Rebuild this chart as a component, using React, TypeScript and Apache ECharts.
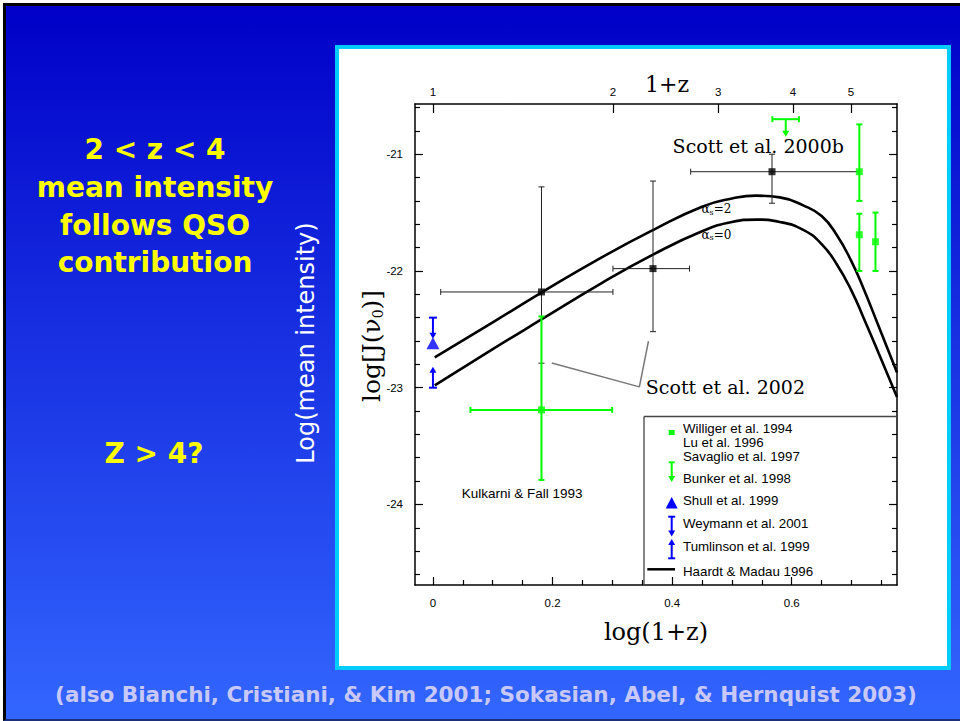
import React, { useEffect, useRef } from 'react';
import * as echarts from 'echarts';

// ---------------- data ----------------
const curveX = [0.003, 0.1, 0.18, 0.28, 0.368, 0.45, 0.5, 0.54, 0.58, 0.62, 0.65, 0.675, 0.7, 0.72, 0.745, 0.776];
const curveAlpha2 = [-22.74, -22.44, -22.19, -21.89, -21.65, -21.45, -21.38, -21.355, -21.37, -21.44, -21.53, -21.69, -21.92, -22.15, -22.47, -22.87];
const curveAlpha0 = [-22.98, -22.67, -22.42, -22.11, -21.86, -21.66, -21.58, -21.56, -21.58, -21.65, -21.77, -21.94, -22.17, -22.4, -22.7, -23.08];

// Scott et al. 2002 / 2000b (black)
const scottX = [0.1815, 0.368, 0.567];
const scottY = [-22.18, -21.98, -21.15];
const scottXLo = [0.013, 0.301, 0.431];
const scottXHi = [0.301, 0.429, 0.713];
const scottYLo = [-22.79, -22.52, -21.42];
const scottYHi = [-21.28, -21.23, -21.0];

// green measurements (Kulkarni & Fall, Williger, Lu, Savaglio)
const greenX = [0.1815, 0.713, 0.713, 0.74];
const greenY = [-23.19, -21.15, -21.69, -21.75];
const greenXLo = [0.0627, 0.713, 0.713, 0.74];
const greenXHi = [0.2997, 0.713, 0.713, 0.74];
const greenYLo = [-23.79, -21.4, -22.0, -22.0];
const greenYHi = [-22.39, -20.745, -21.51, -21.5];

// limits: x, start (cap), arrow tip, xlo, xhi
const greenLimitX = [0.59];
const greenLimitFrom = [-20.7];
const greenLimitTo = [-20.85];
const greenLimitXLo = [0.5676];
const greenLimitXHi = [0.612];

const blueLimitX = [0.0, 0.0];
const blueLimitFrom = [-22.4, -23.0];
const blueLimitTo = [-22.58, -22.82];

// Shull et al. 1999
const shullX = [0.0];
const shullY = [-22.62];

// leader line to "Scott et al. 2002"
const leaderX = [0.1987, 0.3452, 0.3604];
const leaderY = [-22.789, -22.993, -22.601];

// in-plot annotations (data coordinates)
const annotText = ['Scott et al. 2000b', 'Scott et al. 2002', 'Kulkarni & Fall 1993', '{a|α}{s|s}{a|=2}', '{a|α}{s|s}{a|=0}'];
const annotX = [0.4008, 0.356, 0.149, 0.449, 0.449];
const annotY = [-20.927, -22.995, -23.903, -21.47, -21.69];

// axis ticks
const xMajorTicks = [0, 0.2, 0.4, 0.6];
const xMinorTicks = [0.05, 0.1, 0.15, 0.25, 0.3, 0.35, 0.45, 0.5, 0.55, 0.65, 0.7, 0.75];
const yMajorTicks = [-24, -23, -22, -21];
const yMinorTicks = [-24.6, -24.4, -24.2, -23.8, -23.6, -23.4, -23.2, -22.8, -22.6, -22.4, -22.2, -21.8, -21.6, -21.4, -21.2, -20.8, -20.6];
const topTickLabels = [1, 2, 3, 4, 5];

const legendLabels = [
  'Williger et al. 1994',
  'Lu et al. 1996',
  'Savaglio et al. 1997',
  'Bunker et al. 1998',
  'Shull et al. 1999',
  'Weymann et al. 2001',
  'Tumlinson et al. 1999',
  'Haardt & Madau 1996',
];

const leftLines = ['2 < z < 4', 'mean intensity', 'follows QSO', 'contribution'];

// ---------------- layout constants ----------------
const X_MIN = -0.03;
const X_MAX = 0.776;
const Y_MIN = -24.69;
const Y_MAX = -20.57;

const SERIF = '"DejaVu Serif", "Liberation Serif", serif';
const SANS = '"Liberation Sans", Arial, sans-serif';

const GREEN = '#00FF00';
const BLUE = '#0000FF';

// per-annotation text styles (index-aligned with annotText)
const annotStyles: any[] = [
  { fontFamily: SERIF, fontSize: 19, align: 'left' },
  { fontFamily: SERIF, fontSize: 19, align: 'left' },
  { fontFamily: SANS, fontSize: 13.5, align: 'center' },
  { align: 'left', alpha: true },
  { align: 'left', alpha: true },
];

function errorBarRender(color: string, lw: number, cap: number) {
  return (params: any, api: any) => {
    const x = api.value(0);
    const y = api.value(1);
    const xlo = api.value(2);
    const xhi = api.value(3);
    const ylo = api.value(4);
    const yhi = api.value(5);
    const c = api.coord([x, y]);
    const style = { stroke: color, lineWidth: lw, fill: null };
    const children: any[] = [];
    if (ylo !== yhi) {
      const a = api.coord([x, ylo]);
      const b = api.coord([x, yhi]);
      children.push({ type: 'line', shape: { x1: c[0], y1: a[1], x2: c[0], y2: b[1] }, style });
      children.push({ type: 'line', shape: { x1: c[0] - cap, y1: a[1], x2: c[0] + cap, y2: a[1] }, style });
      children.push({ type: 'line', shape: { x1: c[0] - cap, y1: b[1], x2: c[0] + cap, y2: b[1] }, style });
    }
    if (xlo !== xhi) {
      const a = api.coord([xlo, y]);
      const b = api.coord([xhi, y]);
      children.push({ type: 'line', shape: { x1: a[0], y1: c[1], x2: b[0], y2: c[1] }, style });
      children.push({ type: 'line', shape: { x1: a[0], y1: c[1] - cap, x2: a[0], y2: c[1] + cap }, style });
      children.push({ type: 'line', shape: { x1: b[0], y1: c[1] - cap, x2: b[0], y2: c[1] + cap }, style });
    }
    return { type: 'group', children };
  };
}

function limitRender(color: string, lw: number) {
  return (params: any, api: any) => {
    const x = api.value(0);
    const y0 = api.value(1);
    const y1 = api.value(2);
    const xlo = api.value(3);
    const xhi = api.value(4);
    const p0 = api.coord([x, y0]);
    const p1 = api.coord([x, y1]);
    const dir = p1[1] > p0[1] ? 1 : -1;
    const style = { stroke: color, lineWidth: lw, fill: null };
    const children: any[] = [];
    const headLen = 6;
    const headHalf = 3.5;
    children.push({
      type: 'line',
      shape: { x1: p0[0], y1: p0[1], x2: p1[0], y2: p1[1] - dir * (headLen - 1) },
      style,
    });
    children.push({
      type: 'polygon',
      shape: {
        points: [
          [p1[0], p1[1]],
          [p1[0] - headHalf, p1[1] - dir * headLen],
          [p1[0] + headHalf, p1[1] - dir * headLen],
        ],
      },
      style: { fill: color, stroke: null },
    });
    if (xlo !== xhi && xlo != null && !isNaN(xlo)) {
      const a = api.coord([xlo, y0]);
      const b = api.coord([xhi, y0]);
      children.push({ type: 'line', shape: { x1: a[0], y1: p0[1], x2: b[0], y2: p0[1] }, style });
      children.push({ type: 'line', shape: { x1: a[0], y1: p0[1] - 3, x2: a[0], y2: p0[1] + 3 }, style });
      children.push({ type: 'line', shape: { x1: b[0], y1: p0[1] - 3, x2: b[0], y2: p0[1] + 3 }, style });
    } else {
      children.push({ type: 'line', shape: { x1: p0[0] - 4, y1: p0[1], x2: p0[0] + 4, y2: p0[1] }, style });
    }
    return { type: 'group', children };
  };
}

const alphaRich = {
  a: { fontFamily: SERIF, fontSize: 12, fill: '#000', lineHeight: 14, verticalAlign: 'middle' },
  s: { fontFamily: SERIF, fontSize: 8, fill: '#000', lineHeight: 12, verticalAlign: 'bottom' },
};

function annotRender(params: any, api: any) {
  const i = api.value(2);
  const p = api.coord([api.value(0), api.value(1)]);
  const st = annotStyles[i];
  const style: any = {
    text: annotText[i],
    fill: '#000',
    align: st.align,
    verticalAlign: 'middle',
  };
  if (st.alpha) {
    style.rich = alphaRich;
  } else {
    style.fontFamily = st.fontFamily;
    style.fontSize = st.fontSize;
  }
  return { type: 'text', x: p[0], y: p[1], style };
}

function buildOption(): any {
  const axisLineStyle = { color: '#000', width: 1.5 };
  const tickStyle = { color: '#000', width: 1.2 };

  const baseX = {
    type: 'value',
    min: X_MIN,
    max: X_MAX,
    splitLine: { show: false },
    gridIndex: 0,
  };
  const baseY = {
    type: 'value',
    min: Y_MIN,
    max: Y_MAX,
    splitLine: { show: false },
    gridIndex: 0,
  };

  const xAxis = [
    {
      ...baseX,
      position: 'bottom',
      axisLine: { show: true, onZero: false, lineStyle: axisLineStyle },
      axisTick: { show: true, inside: true, length: 8, lineStyle: tickStyle, customValues: xMajorTicks },
      axisLabel: {
        show: true,
        customValues: xMajorTicks,
        margin: 12,
        color: '#000',
        fontFamily: SANS,
        fontSize: 11.5,
        formatter: (v: number) => (v === 0 ? '0' : String(+v.toFixed(1))),
      },
      name: 'log(1+z)',
      nameLocation: 'middle',
      nameGap: 35,
      nameTextStyle: { fontFamily: SERIF, fontSize: 24, color: '#000' },
    },
    {
      ...baseX,
      position: 'bottom',
      axisLine: { show: false, onZero: false },
      axisTick: { show: true, inside: true, length: 5, lineStyle: tickStyle, customValues: xMinorTicks },
      axisLabel: { show: false },
    },
    {
      ...baseX,
      position: 'top',
      axisLine: { show: true, onZero: false, lineStyle: axisLineStyle },
      axisTick: {
        show: true,
        inside: true,
        length: 9,
        lineStyle: tickStyle,
        customValues: topTickLabels.map((v) => Math.log10(v)),
      },
      axisLabel: {
        show: true,
        customValues: topTickLabels.map((v) => Math.log10(v)),
        margin: 6,
        color: '#000',
        fontFamily: SANS,
        fontSize: 11.5,
        formatter: (v: number) => String(Math.round(Math.pow(10, v))),
      },
    },
  ];

  const yAxis = [
    {
      ...baseY,
      position: 'left',
      axisLine: { show: true, onZero: false, lineStyle: axisLineStyle },
      axisTick: { show: true, inside: true, length: 8, lineStyle: tickStyle, customValues: yMajorTicks },
      axisLabel: {
        show: true,
        customValues: yMajorTicks,
        margin: 12,
        color: '#000',
        fontFamily: SANS,
        fontSize: 11.5,
        formatter: (v: number) => String(v),
      },
    },
    {
      ...baseY,
      position: 'left',
      axisLine: { show: false, onZero: false },
      axisTick: { show: true, inside: true, length: 5, lineStyle: tickStyle, customValues: yMinorTicks },
      axisLabel: { show: false },
    },
    {
      ...baseY,
      position: 'right',
      axisLine: { show: true, onZero: false, lineStyle: axisLineStyle },
      axisTick: { show: true, inside: true, length: 8, lineStyle: tickStyle, customValues: yMajorTicks },
      axisLabel: { show: false },
    },
    {
      ...baseY,
      position: 'right',
      axisLine: { show: false, onZero: false },
      axisTick: { show: true, inside: true, length: 5, lineStyle: tickStyle, customValues: yMinorTicks },
      axisLabel: { show: false },
    },
  ];

  const series: any[] = [
    {
      name: 'Haardt & Madau 1996 αs=2',
      type: 'line',
      xAxisIndex: 0,
      yAxisIndex: 0,
      data: curveX.map((x, i) => [x, curveAlpha2[i]]),
      smooth: 0.5,
      showSymbol: false,
      symbol: 'none',
      lineStyle: { color: '#000', width: 2.6 },
      z: 2,
      silent: true,
    },
    {
      name: 'Haardt & Madau 1996 αs=0',
      type: 'line',
      xAxisIndex: 0,
      yAxisIndex: 0,
      data: curveX.map((x, i) => [x, curveAlpha0[i]]),
      smooth: 0.5,
      showSymbol: false,
      symbol: 'none',
      lineStyle: { color: '#000', width: 2.6 },
      z: 2,
      silent: true,
    },
    {
      name: 'leader',
      type: 'line',
      xAxisIndex: 0,
      yAxisIndex: 0,
      data: leaderX.map((x, i) => [x, leaderY[i]]),
      showSymbol: false,
      symbol: 'none',
      lineStyle: { color: '#777', width: 1.5 },
      z: 2,
      silent: true,
    },
    {
      name: 'Scott errors',
      type: 'custom',
      xAxisIndex: 0,
      yAxisIndex: 0,
      renderItem: errorBarRender('#222', 1, 3),
      data: scottX.map((x, i) => [x, scottY[i], scottXLo[i], scottXHi[i], scottYLo[i], scottYHi[i]]),
      encode: { x: 0, y: 1 },
      z: 3,
      silent: true,
    },
    {
      name: 'Scott et al.',
      type: 'scatter',
      xAxisIndex: 0,
      yAxisIndex: 0,
      symbol: 'rect',
      symbolSize: 7,
      itemStyle: { color: '#000' },
      data: scottX.map((x, i) => [x, scottY[i]]),
      z: 4,
      silent: true,
    },
    {
      name: 'green errors',
      type: 'custom',
      xAxisIndex: 0,
      yAxisIndex: 0,
      renderItem: errorBarRender(GREEN, 2, 3),
      data: greenX.map((x, i) => [x, greenY[i], greenXLo[i], greenXHi[i], greenYLo[i], greenYHi[i]]),
      encode: { x: 0, y: 1 },
      z: 3,
      silent: true,
    },
    {
      name: 'Williger / Lu / Savaglio',
      type: 'scatter',
      xAxisIndex: 0,
      yAxisIndex: 0,
      symbol: 'rect',
      symbolSize: 7,
      itemStyle: { color: GREEN },
      data: greenX.map((x, i) => [x, greenY[i]]),
      z: 4,
      silent: true,
    },
    {
      name: 'Bunker et al. 1998',
      type: 'custom',
      xAxisIndex: 0,
      yAxisIndex: 0,
      renderItem: limitRender(GREEN, 2),
      data: greenLimitX.map((x, i) => [x, greenLimitFrom[i], greenLimitTo[i], greenLimitXLo[i], greenLimitXHi[i]]),
      encode: { x: 0, y: 1 },
      z: 3,
      silent: true,
    },
    {
      name: 'Weymann / Tumlinson',
      type: 'custom',
      xAxisIndex: 0,
      yAxisIndex: 0,
      renderItem: limitRender(BLUE, 2),
      data: blueLimitX.map((x, i) => [x, blueLimitFrom[i], blueLimitTo[i], x, x]),
      encode: { x: 0, y: 1 },
      z: 3,
      silent: true,
    },
    {
      name: 'Shull et al. 1999',
      type: 'scatter',
      xAxisIndex: 0,
      yAxisIndex: 0,
      symbol: 'triangle',
      symbolSize: [13, 12],
      itemStyle: { color: BLUE },
      data: shullX.map((x, i) => [x, shullY[i]]),
      z: 4,
      silent: true,
    },
    {
      name: 'annotations',
      type: 'custom',
      xAxisIndex: 0,
      yAxisIndex: 0,
      renderItem: annotRender,
      data: annotX.map((x, i) => [x, annotY[i], i]),
      encode: { x: 0, y: 1 },
      z: 5,
      silent: true,
    },
  ];

  // ----- legend (drawn as graphics inside the plot) -----
  const LX = 671.7; // symbol centre
  const TX = 683; // text left
  const legendTextY = [428.3, 442.3, 456, 478.3, 500, 523.3, 546.7, 571];
  const legendStroke = (c: string) => ({ stroke: c, lineWidth: 2, fill: null });
  const legend: any[] = [
    { type: 'line', shape: { x1: 644, y1: 416.5, x2: 897, y2: 416.5 }, style: { stroke: '#444', lineWidth: 1.3 }, z: 10 },
    { type: 'line', shape: { x1: 644, y1: 416.5, x2: 644, y2: 585 }, style: { stroke: '#444', lineWidth: 1.3 }, z: 10 },
    { type: 'rect', shape: { x: LX - 3, y: 430, width: 6, height: 5 }, style: { fill: GREEN }, z: 10 },
    { type: 'line', shape: { x1: LX - 3, y1: 462.3, x2: LX + 3, y2: 462.3 }, style: legendStroke(GREEN), z: 10 },
    { type: 'line', shape: { x1: LX, y1: 462.3, x2: LX, y2: 477 }, style: legendStroke(GREEN), z: 10 },
    { type: 'polygon', shape: { points: [[LX, 482], [LX - 3.5, 476], [LX + 3.5, 476]] }, style: { fill: GREEN }, z: 10 },
    { type: 'polygon', shape: { points: [[LX, 497], [LX - 6, 508.5], [LX + 6, 508.5]] }, style: { fill: BLUE }, z: 10 },
    { type: 'line', shape: { x1: LX - 3.5, y1: 516.7, x2: LX + 3.5, y2: 516.7 }, style: legendStroke(BLUE), z: 10 },
    { type: 'line', shape: { x1: LX, y1: 516.7, x2: LX, y2: 531 }, style: legendStroke(BLUE), z: 10 },
    { type: 'polygon', shape: { points: [[LX, 536.5], [LX - 3.5, 530.5], [LX + 3.5, 530.5]] }, style: { fill: BLUE }, z: 10 },
    { type: 'line', shape: { x1: LX - 3.5, y1: 558.3, x2: LX + 3.5, y2: 558.3 }, style: legendStroke(BLUE), z: 10 },
    { type: 'line', shape: { x1: LX, y1: 558.3, x2: LX, y2: 544 }, style: legendStroke(BLUE), z: 10 },
    { type: 'polygon', shape: { points: [[LX, 539], [LX - 3.5, 545], [LX + 3.5, 545]] }, style: { fill: BLUE }, z: 10 },
    { type: 'line', shape: { x1: 647.3, y1: 569.3, x2: 675, y2: 569.3 }, style: { stroke: '#000', lineWidth: 2.5 }, z: 10 },
    ...legendLabels.map((t, i) => ({
      type: 'text',
      x: TX,
      y: legendTextY[i],
      z: 10,
      style: { text: t, fill: '#000', fontFamily: SANS, fontSize: 13.3, align: 'left', verticalAlign: 'middle' },
    })),
  ];

  // ----- axis titles placed as text -----
  const axisTitles: any[] = [
    {
      type: 'text',
      x: 667,
      y: 84,
      z: 10,
      style: { text: '1+z', fill: '#000', fontFamily: SERIF, fontSize: 22, align: 'center', verticalAlign: 'middle' },
    },
    {
      type: 'text',
      x: 371,
      y: 346,
      rotation: Math.PI / 2,
      z: 10,
      style: {
        text: '{a|log[J(ν}{s|0}{a|)]}',
        fill: '#000',
        align: 'center',
        verticalAlign: 'middle',
        rich: {
          a: { fontFamily: SERIF, fontSize: 25, fill: '#000', lineHeight: 28, verticalAlign: 'middle' },
          s: { fontFamily: SERIF, fontSize: 14, fill: '#000', lineHeight: 20, verticalAlign: 'bottom' },
        },
      },
    },
  ];

  // ----- slide texts -----
  const leftY = [149, 187, 225, 262.5];
  const boldFont = '"DejaVu Sans", Verdana, sans-serif';
  const slideTexts: any[] = [
    ...leftLines.map((t, i) => ({
      type: 'text',
      x: 155,
      y: leftY[i],
      z: 10,
      style: {
        text: t,
        fill: '#FFFF00',
        fontFamily: boldFont,
        fontWeight: 'bold',
        fontSize: 28,
        align: 'center',
        verticalAlign: 'middle',
      },
    })),
    {
      type: 'text',
      x: 154,
      y: 453,
      z: 10,
      style: {
        text: 'Z > 4?',
        fill: '#FFFF00',
        fontFamily: boldFont,
        fontWeight: 'bold',
        fontSize: 28,
        align: 'center',
        verticalAlign: 'middle',
      },
    },
    {
      type: 'text',
      x: 306,
      y: 343,
      rotation: Math.PI / 2,
      z: 10,
      style: {
        text: 'Log(mean intensity)',
        fill: '#FFFFFF',
        fontFamily: '"DejaVu Sans", sans-serif',
        fontSize: 24,
        align: 'center',
        verticalAlign: 'middle',
      },
    },
    {
      type: 'text',
      x: 486,
      y: 694,
      z: 10,
      style: {
        text: '(also Bianchi, Cristiani, & Kim 2001; Sokasian, Abel, & Hernquist 2003)',
        fill: '#C8C8FA',
        fontFamily: boldFont,
        fontWeight: 'bold',
        fontSize: 21.5,
        align: 'center',
        verticalAlign: 'middle',
      },
    },
  ];

  return {
    animation: false,
    backgroundColor: 'transparent',
    grid: { left: 415, right: 63, top: 104, bottom: 136, containLabel: false },
    xAxis,
    yAxis,
    series,
    graphic: [...legend, ...axisTitles, ...slideTexts],
  };
}

export default function App() {
  const ref = useRef<HTMLDivElement>(null);
  useEffect(() => {
    if (!ref.current) return;
    const chart = echarts.init(ref.current, undefined, { renderer: 'svg' });
    chart.setOption(buildOption());
    return () => {
      chart.dispose();
    };
  }, []);
  return (
    <div style={{ position: 'fixed', left: 0, top: 0, width: 960, height: 721, background: '#fff', overflow: 'hidden' }}>
      <div
        style={{
          position: 'absolute',
          left: 3,
          top: 3,
          width: 957,
          height: 718,
          boxSizing: 'border-box',
          borderTop: '3px solid #000',
          borderLeft: '3px solid #000',
          borderBottom: '2px solid #1b2f7a',
          background: 'linear-gradient(to bottom, #0000C8 0%, #3366FF 100%)',
        }}
      />
      <div
        style={{
          position: 'absolute',
          left: 335,
          top: 45,
          width: 616,
          height: 625,
          boxSizing: 'border-box',
          border: '4px solid #00CCFF',
          background: '#fff',
        }}
      />
      <div ref={ref} style={{ position: 'absolute', left: 0, top: 0, width: 960, height: 721 }} />
    </div>
  );
}
